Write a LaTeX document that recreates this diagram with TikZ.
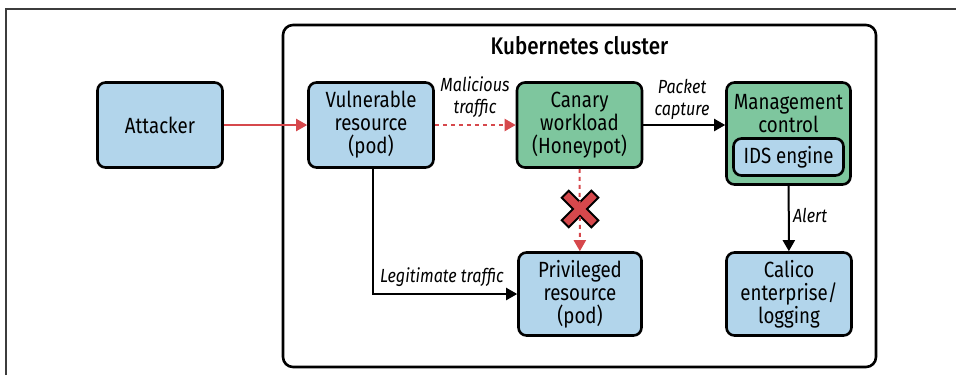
\documentclass[tikz,border=0pt]{standalone}
\usepackage{fontspec}
\setmainfont{Fira Sans}[FakeStretch=0.85]
\newfontfamily\titlefont{Fira Sans Medium}[FakeStretch=0.86]
\usetikzlibrary{arrows.meta}
\definecolor{boxblue}{RGB}{178,213,235}
\definecolor{boxgreen}{RGB}{126,198,158}
\definecolor{arrowred}{RGB}{214,72,76}
\definecolor{framegrey}{RGB}{60,60,60}
\begin{document}
\begin{tikzpicture}[x=1pt,y=-1pt,
  box/.style={draw=black, line width=2.6pt, rounded corners=8pt, align=center, inner sep=0pt,
    font=\fontsize{22}{23}\selectfont, minimum width=125pt, minimum height=85pt},
  bluebox/.style={box, fill=boxblue},
  greenbox/.style={box, fill=boxgreen},
  lab/.style={font=\fontsize{19}{22}\selectfont\itshape, align=center, inner sep=0pt},
  redarrow/.style={draw=arrowred, line width=2pt, -{Triangle[length=11pt,width=12pt]}},
  reddash/.style={redarrow, dash pattern=on 4pt off 4pt},
  blackarrow/.style={draw=black, line width=2pt, -{Triangle[length=11pt,width=12pt]}},
]
\useasboundingbox (0,0) rectangle (956,375);
% partial outer frame
\draw[framegrey, line width=1.3pt] (6,375) -- (6,9) -- (956,9);
% cluster
\draw[black, line width=2.6pt, rounded corners=10pt] (283,25) rectangle (876,367);
\node[inner sep=0pt, font=\titlefont\fontsize{24}{28}\selectfont] (title) at (579.5,46) {Kubernetes cluster};

\node[bluebox] (attacker) at (160,125) {Attacker};
\node[bluebox] (vuln) at (371,125) {Vulnerable\\resource\\(pod)};
\node[greenbox] (canary) at (579.5,125) {Canary\\workload\\(Honeypot)};
\node[greenbox, minimum width=124pt, minimum height=102pt] (mgmt) at (788.5,133.5) {};
\node[inner sep=0pt, align=center, font=\fontsize{22}{23}\selectfont] (mgmttext) at (788.5,113.5) {Management\\control};
\node[bluebox, minimum width=110pt, minimum height=37pt] (ids) at (788.5,157) {IDS engine};
\node[bluebox, minimum width=123pt, minimum height=83pt] (priv) at (580,294) {Privileged\\resource\\(pod)};
\node[bluebox, minimum width=125pt, minimum height=83pt] (calico) at (789,294) {Calico\\enterprise/\\logging};

% X mark
\coordinate (xm) at (580,209);
\draw[black, line width=12pt] ([shift={(-15.5,-15.5)}]xm) -- ([shift={(15.5,15.5)}]xm)
  ([shift={(-15.5,15.5)}]xm) -- ([shift={(15.5,-15.5)}]xm);
\draw[arrowred, line width=7.5pt] ([shift={(-14,-14)}]xm) -- ([shift={(14,14)}]xm)
  ([shift={(-14,14)}]xm) -- ([shift={(14,-14)}]xm);

% connectors
\draw[redarrow] (attacker) -- (vuln);
\draw[reddash] (vuln) -- (canary);
\draw[reddash] (canary) -- (priv);
\draw[blackarrow] (canary.east) -- (canary.east -| mgmt.west);
\draw[blackarrow] (mgmt) -- (calico);
\draw[blackarrow] ([xshift=2pt]vuln.south) |- (priv.west);

% labels
\node[lab] (lmal) at (475,97) {Malicious\\traffic};
\node[lab] (lpkt) at (682,99) {Packet\\capture};
\node[lab] (lleg) at (442,277) {Legitimate traffic};
\node[lab] (lalert) at (810,215) {Alert};
\end{tikzpicture}
\end{document}
